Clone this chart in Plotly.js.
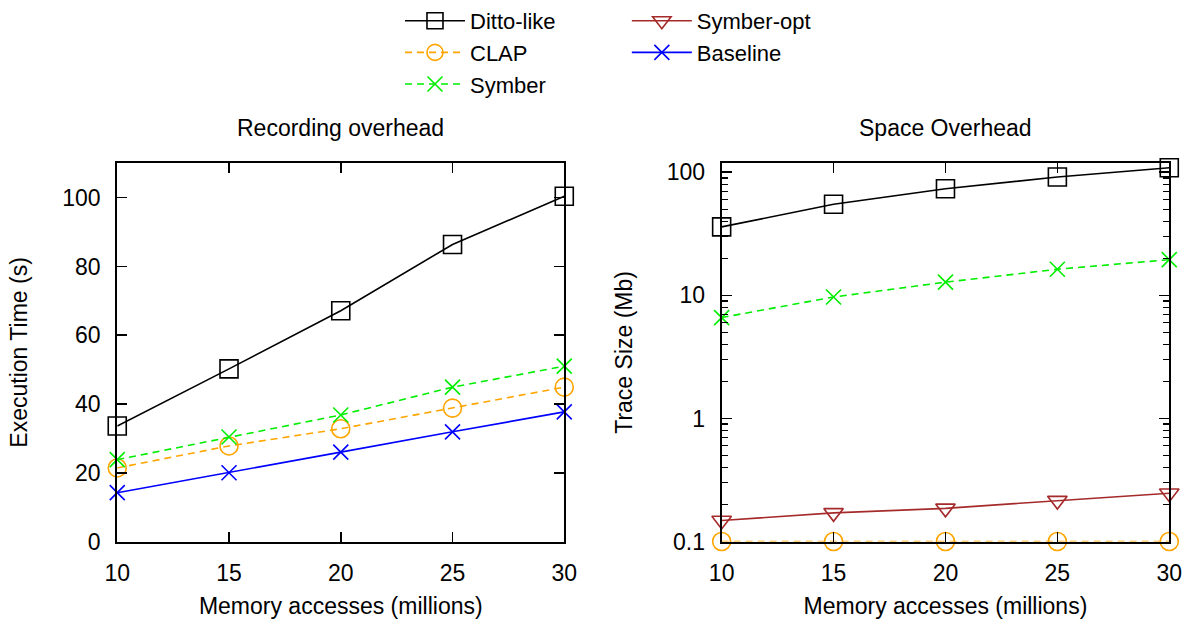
<!DOCTYPE html>
<html>
<head>
<meta charset="utf-8">
<script src="https://cdn.plot.ly/plotly-3.0.1.min.js"></script>
<style>html,body{margin:0;padding:0;background:#fff}#chart{width:1194px;height:620px}</style>
</head>
<body>
<div id="chart"></div>
<script>
const memAccess = [10, 15, 20, 25, 30];
const execDitto = [33.6, 50.2, 67.1, 86.4, 100.4];
const execClap = [21.4, 27.8, 32.8, 38.8, 44.9];
const execSymber = [23.8, 30.4, 36.8, 44.9, 51.0];
const execBaseline = [14.2, 20.0, 26.0, 31.9, 37.7];
const sizeDitto = [36, 55, 73.5, 91.5, 109];
const sizeSymber = [6.6, 9.7, 12.8, 16.3, 19.5];
const sizeSymberOpt = [0.148, 0.171, 0.186, 0.215, 0.247];
const sizeClap = [0.1, 0.1, 0.1, 0.1, 0.1];
const xTicks = [10, 15, 20, 25, 30];
const logTickVals = [0.1, 1, 10, 100];
const logTickText = ['0.1', '1', '10', '100'];

const FONT = 'Liberation Sans, Arial, Helvetica, sans-serif';
const FS = 23;
const C = {ditto: '#000000', clap: '#ffa500', symber: '#00ee00', opt: '#a52a2a', base: '#0000ff'};
const DASH = '7px,5px';

function tr(name, x, y, color, dash, symbol, size, axes, legend, show) {
  return {
    type: 'scatter', mode: 'lines+markers', name: name, x: x, y: y,
    xaxis: axes[0], yaxis: axes[1], legend: legend, showlegend: show,
    cliponaxis: false,
    line: {color: color, width: 1.6, dash: dash},
    marker: {symbol: symbol, size: size, color: color, line: {color: color, width: 1.6}}
  };
}

const data = [
  tr('Ditto-like', memAccess, execDitto, C.ditto, 'solid', 'square-open', 18, ['x', 'y'], 'legend', true),
  tr('CLAP', memAccess, execClap, C.clap, DASH, 'circle-open', 18, ['x', 'y'], 'legend', true),
  tr('Symber', memAccess, execSymber, C.symber, DASH, 'x-thin-open', 15, ['x', 'y'], 'legend', true),
  tr('Baseline', memAccess, execBaseline, C.base, 'solid', 'x-thin-open', 15, ['x', 'y'], 'legend2', true),
  tr('Ditto-like', memAccess, sizeDitto, C.ditto, 'solid', 'square-open', 18, ['x2', 'y2'], 'legend', false),
  tr('Symber', memAccess, sizeSymber, C.symber, DASH, 'x-thin-open', 15, ['x2', 'y2'], 'legend', false),
  tr('Symber-opt', memAccess, sizeSymberOpt, C.opt, 'solid', 'triangle-down-open', 17, ['x2', 'y2'], 'legend2', true),
  tr('CLAP', memAccess, sizeClap, C.clap, DASH, 'circle-open', 18, ['x2', 'y2'], 'legend', false)
];
// reorder legend2 so Symber-opt comes before Baseline
data.push(data.splice(3, 1)[0]);

const axBase = {
  showline: true, linecolor: '#000', linewidth: 2, mirror: 'allticks',
  ticks: 'inside', ticklen: 10, tickwidth: 1.6, tickcolor: '#000',
  showgrid: false, zeroline: false, ticklabelstandoff: 10,
  tickfont: {family: FONT, size: FS, color: '#000'}
};
const xAx = Object.assign({}, axBase, {
  range: [10, 30], tickmode: 'array', tickvals: xTicks,
  title: {text: 'Memory accesses (millions)', font: {family: FONT, size: FS, color: '#000'}, standoff: 13}
});

const layout = {
  width: 1194, height: 620,
  margin: {l: 0, r: 0, t: 0, b: 0},
  paper_bgcolor: '#fff', plot_bgcolor: '#fff',
  font: {family: FONT, size: FS, color: '#000'},
  xaxis: Object.assign({}, xAx, {domain: [0.0982, 0.4726], anchor: 'y'}),
  yaxis: Object.assign({}, axBase, {
    domain: [0.1266, 0.7366], anchor: 'x', range: [0, 110], tickmode: 'linear', tick0: 0, dtick: 20,
    title: {text: 'Execution Time (s)', font: {family: FONT, size: FS, color: '#000'}, standoff: 28}
  }),
  xaxis2: Object.assign({}, xAx, {domain: [0.6044, 0.9793], anchor: 'y2'}),
  yaxis2: Object.assign({}, axBase, {
    domain: [0.1266, 0.7366], anchor: 'x2', type: 'log', range: [-1, 2.073],
    tickmode: 'array', tickvals: logTickVals, ticktext: logTickText,
    minor: {tickmode: 'array', tickvals: [0.2,0.3,0.4,0.5,0.6,0.7,0.8,0.9,2,3,4,5,6,7,8,9,20,30,40,50,60,70,80,90],
            ticks: 'inside', ticklen: 6, tickwidth: 1.4, tickcolor: '#000', showgrid: false},
    title: {text: 'Trace Size (Mb)', font: {family: FONT, size: FS, color: '#000'}, standoff: 28}
  }),
  legend: {x: 0.335, y: 1.0, xanchor: 'left', yanchor: 'top', orientation: 'v',
           bgcolor: 'rgba(0,0,0,0)', font: {family: FONT, size: 22, color: '#000'}, itemwidth: 60, tracegroupgap: 0},
  legend2: {x: 0.525, y: 1.0, xanchor: 'left', yanchor: 'top', orientation: 'v',
           bgcolor: 'rgba(0,0,0,0)', font: {family: FONT, size: 22, color: '#000'}, itemwidth: 60, tracegroupgap: 0},
  annotations: [
    {text: 'Recording overhead', xref: 'paper', yref: 'paper', x: (0.0982 + 0.4726) / 2, y: 1 - 128 / 620,
     xanchor: 'center', yanchor: 'middle', showarrow: false, font: {family: FONT, size: FS, color: '#000'}},
    {text: 'Space Overhead', xref: 'paper', yref: 'paper', x: (0.6044 + 0.9793) / 2, y: 1 - 128 / 620,
     xanchor: 'center', yanchor: 'middle', showarrow: false, font: {family: FONT, size: FS, color: '#000'}}
  ]
};

Plotly.newPlot('chart', data, layout, {displayModeBar: false, staticPlot: true});
</script>
</body>
</html>
